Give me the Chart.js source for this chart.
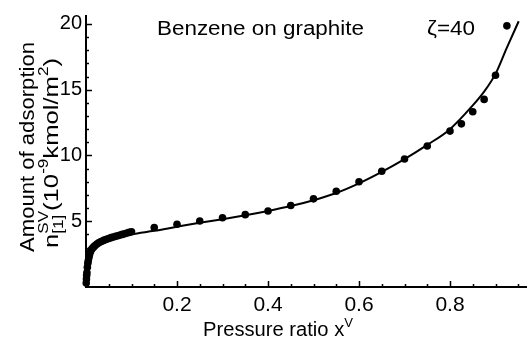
<!DOCTYPE html>
<html>
<head>
<meta charset="utf-8">
<script src="https://cdn.jsdelivr.net/npm/chart.js@4/dist/chart.umd.min.js"></script>
<style>
  html, body { margin: 0; padding: 0; background: #fff; }
  #wrap { width: 530px; height: 337px; }
</style>
</head>
<body>
<div id="wrap"><canvas id="chart" width="530" height="337"></canvas></div>
<script>
// measured points (pressure ratio vs amount adsorbed)
const obsX = [0.0005, 0.001, 0.0015, 0.002, 0.003, 0.004, 0.005, 0.006, 0.007, 0.008, 0.01, 0.012, 0.014,
  0.017, 0.02, 0.024, 0.028, 0.032, 0.036, 0.04, 0.045, 0.05, 0.055, 0.06, 0.065, 0.07, 0.075, 0.08,
  0.085, 0.09, 0.095, 0.1, 0.15, 0.2, 0.25, 0.3, 0.35, 0.4, 0.45, 0.5, 0.55, 0.6, 0.65, 0.7, 0.75,
  0.8, 0.825, 0.85, 0.875, 0.9, 0.925];
const obsY = [0.3, 0.6, 0.9, 1.1, 1.5, 1.8, 2.0, 2.2, 2.35, 2.5, 2.7, 2.85, 2.95,
  3.05, 3.15, 3.27, 3.36, 3.44, 3.5, 3.56, 3.63, 3.69, 3.75, 3.8, 3.85, 3.9, 3.95, 4.0,
  4.05, 4.1, 4.15, 4.2, 4.52, 4.77, 5.02, 5.26, 5.5, 5.78, 6.2, 6.7, 7.28, 8.0, 8.8, 9.73, 10.72,
  11.85, 12.4, 13.32, 14.26, 16.1, 19.85];

// model curve, zeta = 40
const fitX = [0, 0.001, 0.002, 0.004, 0.006, 0.008, 0.01, 0.015, 0.02, 0.03, 0.04, 0.05, 0.075, 0.1,
  0.15, 0.2, 0.25, 0.3, 0.35, 0.4, 0.45, 0.5, 0.55, 0.6, 0.65, 0.7, 0.75, 0.8, 0.85, 0.875, 0.9,
  0.925, 0.951];
const fitY = [0, 0.5, 0.9, 1.5, 1.9, 2.2, 2.4, 2.75, 2.95, 3.2, 3.38, 3.52, 3.8, 4.0,
  4.27, 4.58, 4.88, 5.15, 5.45, 5.78, 6.15, 6.6, 7.15, 7.88, 8.75, 9.72, 10.8, 12.0, 13.8, 14.85, 16.2,
  18.2, 20.2];

const xTickLabels = [0.2, 0.4, 0.6, 0.8];
const yTickLabels = [5, 10, 15, 20];
const xMinorTicks = [0.05, 0.1, 0.15, 0.2, 0.25, 0.3, 0.35, 0.4, 0.45, 0.5, 0.55, 0.6, 0.65, 0.7, 0.75, 0.8, 0.85, 0.9, 0.95];
const yMinorTicks = [1, 2, 3, 4, 5, 6, 7, 8, 9, 10, 11, 12, 13, 14, 15, 16, 17, 18, 19, 20];

const FONT = '"Liberation Sans", Arial, Helvetica, sans-serif';

// draws a run of text pieces centred on x, stretched sideways to width w
// piece = {t, s (size), dy} or {stack:[pieces]} for sup/sub on top of each other
function drawRich(ctx, parts, x, y, w) {
  const widthOf = p => {
    if (p.stack) {
      return Math.max(...p.stack.map(q => { ctx.font = q.s + 'px ' + FONT; return ctx.measureText(q.t).width; }));
    }
    ctx.font = p.s + 'px ' + FONT;
    return ctx.measureText(p.t).width;
  };
  let total = 0;
  parts.forEach(p => total += widthOf(p));
  ctx.save();
  ctx.translate(x, y);
  ctx.scale(w / total, 1);
  let cx = -total / 2;
  parts.forEach(p => {
    const pw = widthOf(p);
    (p.stack || [p]).forEach(q => {
      ctx.font = q.s + 'px ' + FONT;
      ctx.fillText(q.t, cx, q.dy || 0);
    });
    cx += pw;
  });
  ctx.restore();
}

const decorations = {
  id: 'decorations',
  afterDraw(chart) {
    const ctx = chart.ctx;
    const xs = chart.scales.x, ys = chart.scales.y;
    const left = chart.chartArea.left, bottom = chart.chartArea.bottom;
    ctx.save();
    ctx.strokeStyle = '#000';
    ctx.fillStyle = '#000';
    ctx.lineWidth = 1.5;
    // inward ticks
    ctx.beginPath();
    xMinorTicks.forEach(v => {
      const px = Math.round(xs.getPixelForValue(v)) + 0.5;
      const len = xTickLabels.includes(v) ? 6 : 3;
      ctx.moveTo(px, bottom);
      ctx.lineTo(px, bottom - len);
    });
    yMinorTicks.forEach(v => {
      const py = Math.round(ys.getPixelForValue(v)) + 0.5;
      const len = yTickLabels.includes(v) ? 6 : 3;
      ctx.moveTo(left, py);
      ctx.lineTo(left + len, py);
    });
    ctx.stroke();

    ctx.textBaseline = 'alphabetic';
    ctx.textAlign = 'left';
    drawRich(ctx, [{ t: 'Benzene on graphite', s: 20 }], 260.5, 34.5, 207);
    drawRich(ctx, [{ t: 'ζ=40', s: 20 }], 451, 34.5, 48);

    // x axis title
    drawRich(ctx, [{ t: 'Pressure ratio x', s: 20 }, { t: 'V', s: 13, dy: -9 }], 278, 336, 150);

    // y axis title, rotated, two lines
    ctx.save();
    ctx.translate(34, 147);
    ctx.rotate(-Math.PI / 2);
    drawRich(ctx, [{ t: 'Amount of adsorption', s: 20 }], 0, 0, 210);
    ctx.restore();
    ctx.save();
    ctx.translate(58, 153);
    ctx.rotate(-Math.PI / 2);
    drawRich(ctx, [
      { t: 'n', s: 21 },
      { stack: [{ t: 'SV', s: 14, dy: -10 }, { t: '[1]', s: 14, dy: 5 }] },
      { t: '(10', s: 21 },
      { t: '-9', s: 14, dy: -10 },
      { t: 'kmol/m', s: 21 },
      { t: '2', s: 14, dy: -10 },
      { t: ')', s: 21 }
    ], 0, 0, 190);
    ctx.restore();
    ctx.restore();
  }
};

const ctx = document.getElementById('chart').getContext('2d');
const myChart = new Chart(ctx, {
  type: 'scatter',
  data: {
    datasets: [{
      label: 'model',
      type: 'line',
      data: fitX.map((x, i) => ({ x: x, y: fitY[i] })),
      borderColor: '#000',
      borderWidth: 2,
      pointRadius: 0,
      fill: false,
      cubicInterpolationMode: 'monotone',
      clip: false
    }, {
      label: 'measured',
      data: obsX.map((x, i) => ({ x: x, y: obsY[i] })),
      backgroundColor: '#000',
      borderColor: '#000',
      pointRadius: 3.8,
      pointBorderWidth: 0,
      clip: false
    }]
  },
  options: {
    responsive: false,
    animation: false,
    events: [],
    layout: { padding: { top: 12, right: 0, left: 0, bottom: 0 } },
    plugins: { legend: { display: false }, tooltip: { enabled: false } },
    scales: {
      x: {
        type: 'linear',
        min: 0,
        max: 0.967,
        afterFit: s => { s.height = 50; },
        afterBuildTicks: s => { s.ticks = xTickLabels.map(v => ({ value: v })); },
        grid: { drawOnChartArea: false, drawTicks: false },
        border: { color: '#000', width: 2 },
        ticks: {
          color: '#000',
          font: { family: FONT, size: 21 },
          padding: 6,
          maxRotation: 0,
          callback: v => v.toFixed(1)
        }
      },
      y: {
        type: 'linear',
        min: 0,
        max: 20.6,
        afterFit: s => { s.width = 86; },
        afterBuildTicks: s => { s.ticks = yTickLabels.map(v => ({ value: v })); },
        grid: { drawOnChartArea: false, drawTicks: false },
        border: { color: '#000', width: 2 },
        ticks: {
          color: '#000',
          font: { family: FONT, size: 20 },
          padding: 4
        }
      }
    }
  },
  plugins: [decorations]
});
</script>
</body>
</html>
